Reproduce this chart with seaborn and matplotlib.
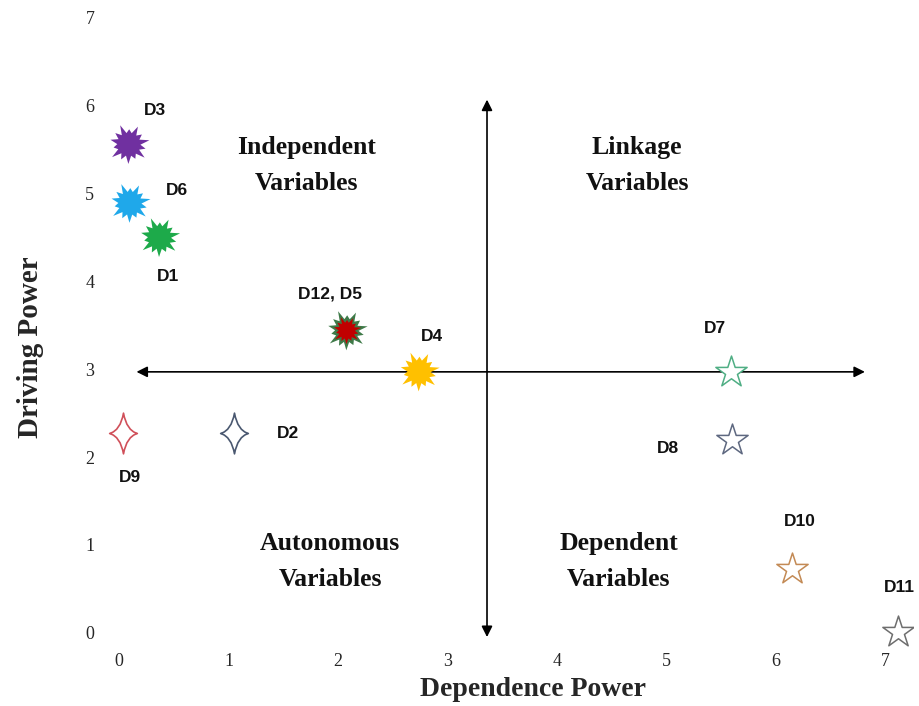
import numpy as np
import matplotlib
matplotlib.use("Agg")
import matplotlib.pyplot as plt
from matplotlib.path import Path
import seaborn as sns

# data
labels = ["D3", "D6", "D1", "D12, D5", "D4", "D9", "D2", "D7", "D8", "D10", "D11"]
dependence = [0.09, 0.10, 0.37, 2.08, 2.74, 0.04, 1.05, 5.59, 5.60, 6.14, 7.11]
driving = [5.56, 4.89, 4.50, 3.44, 2.97, 2.27, 2.27, 2.97, 2.19, 0.72, 0.01]
ticks = [0, 1, 2, 3, 4, 5, 6, 7]
quadrants = ["Independent\nVariables", "Linkage\nVariables",
             "Autonomous\nVariables", "Dependent\nVariables"]

# styling
kinds = ["burst", "burst", "burst", "burst", "burst", "spark", "spark",
         "star", "star", "star", "star"]
colors = ["#7030A0", "#1FA8EA", "#1DAA4A", "#C00000", "#FFC000", "#D0505A",
          "#4A5870", "#4FAE84", "#5E6880", "#C38A55", "#6E6E6E"]
label_offsets = [(26, 34), (47, 13), (9, -39), (-17, 37), (13, 35), (7, -44),
                 (54, 0), (-16, 43), (-64, -8), (8, 48), (2, 44)]
quad_pos = [(1.71, 5.32), (4.73, 5.32), (1.93, 0.81), (4.56, 0.81)]


def burst_path():
    outer = [1.0, 0.78, 0.95, 0.72, 1.0, 0.84, 0.9, 0.74, 1.0, 0.8, 0.93, 0.75, 0.98, 0.82]
    n = len(outer)
    ang = np.linspace(0, 2 * np.pi, 2 * n, endpoint=False) + 0.2
    r = []
    for o in outer:
        r += [o, 0.55]
    r = np.array(r)
    verts = np.column_stack([r * np.cos(ang), r * np.sin(ang)])
    verts = np.vstack([verts, verts[:1]])
    return Path(verts, closed=True)


def spark_path():
    c = 0.15
    verts = [(0, 1), (c, c), (0.68, 0), (c, -c), (0, -1), (-c, -c), (-0.68, 0),
             (-c, c), (0, 1), (0, 1)]
    codes = [Path.MOVETO] + [Path.CURVE3] * 8 + [Path.CLOSEPOLY]
    return Path(verts, codes)


BURST = burst_path()
SPARK = spark_path()

sns.set_style("white")
plt.rcParams["font.family"] = ["Liberation Serif", "DejaVu Serif"]

fig = plt.figure(figsize=(9.2, 7.06), dpi=100)
ax = fig.add_axes([0.1055, 0.079, 0.887, 0.908])

for i, lab in enumerate(labels):
    x, y, k, col = dependence[i], driving[i], kinds[i], colors[i]
    if k == "burst":
        if lab == "D12, D5":
            sns.scatterplot(x=[x], y=[y], marker=BURST, s=900, color="#3E7A48",
                            edgecolor="none", ax=ax, zorder=4)
            sns.scatterplot(x=[x], y=[y], marker=BURST, s=430, color=col,
                            edgecolor="none", ax=ax, zorder=5)
        else:
            sns.scatterplot(x=[x], y=[y], marker=BURST, s=880, color=col,
                            edgecolor="none", ax=ax, zorder=5)
    elif k == "spark":
        sns.scatterplot(x=[x], y=[y], marker=SPARK, s=860, color=col,
                        facecolor="white", edgecolor=col, linewidth=1.2,
                        ax=ax, zorder=5)
    else:
        sns.scatterplot(x=[x], y=[y], marker="*", s=560, color=col,
                        facecolor="white", edgecolor=col, linewidth=1.1,
                        ax=ax, zorder=5)
    ax.annotate(lab, (x, y), xytext=label_offsets[i], textcoords="offset pixels",
                ha="center", va="center", fontsize=12.5, fontweight="bold",
                family="Liberation Sans", color="#111111", zorder=6)

for txt, (qx, qy) in zip(quadrants, quad_pos):
    ax.text(qx, qy, txt, ha="center", va="center", fontsize=18.5,
            fontweight="bold", linespacing=1.68, color="#111111")

# quadrant arrows
arrow = dict(arrowstyle="<|-|>", color="black", lw=1.2,
             mutation_scale=16, shrinkA=0, shrinkB=0)
ax.annotate("", xy=(6.81, 2.97), xytext=(0.16, 2.97), arrowprops=arrow, zorder=3)
ax.annotate("", xy=(3.36, 6.07), xytext=(3.36, -0.05), arrowprops=arrow, zorder=3)

ax.set_xlim(-0.2, 7.25)
ax.set_ylim(-0.2, 7.1)
ax.set_xticks(ticks)
ax.set_yticks(ticks)
ax.tick_params(length=0, labelsize=13, pad=2)
for sp in ax.spines.values():
    sp.set_visible(False)
ax.set_xlabel("Dependence Power", fontsize=20, fontweight="bold")
ax.set_ylabel("Driving Power", fontsize=21, fontweight="bold")
ax.xaxis.set_label_coords(0.534, -0.062)
ax.xaxis.label.set_va("center")
ax.yaxis.set_label_coords(-0.082, 0.473)
ax.yaxis.label.set_va("center")
ax.grid(False)

fig.savefig("out.png", dpi=100)
